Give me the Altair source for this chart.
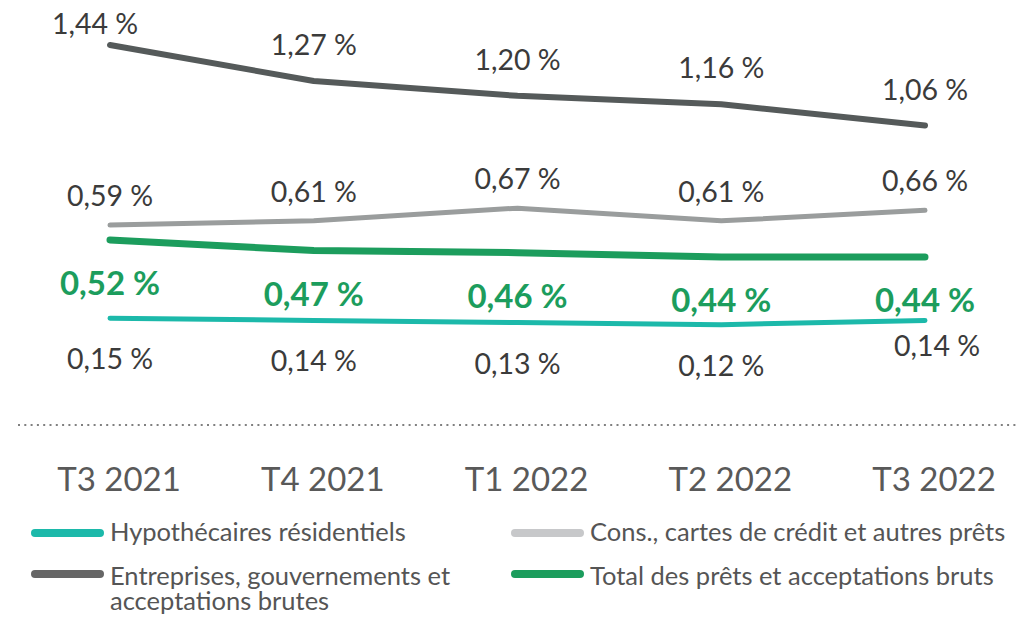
import altair as alt
import pandas as pd

quarters = ["T3 2021", "T4 2021", "T1 2022", "T2 2022", "T3 2022"]
series_names = [
    "Hypothécaires résidentiels",
    "Cons., cartes de crédit et autres prêts",
    "Entreprises, gouvernements et acceptations brutes",
    "Total des prêts et acceptations bruts",
]
hyp = [0.15, 0.14, 0.13, 0.12, 0.14]
cons = [0.59, 0.61, 0.67, 0.61, 0.66]
ent = [1.44, 1.27, 1.20, 1.16, 1.06]
total = [0.52, 0.47, 0.46, 0.44, 0.44]
legend_lines = [
    "Hypothécaires résidentiels",
    "Cons., cartes de crédit et autres prêts",
    "Entreprises, gouvernements et\nacceptations brutes",
    "Total des prêts et acceptations bruts",
]

line_colors = ["#1cb9aa", "#9a9d9d", "#555a5a", "#1c9d5d"]
legend_colors = ["#1cb9aa", "#c7c8ca", "#666666", "#1c9d5d"]
line_widths = [5, 5, 6, 7]
FONT = "Lato"

rows = []
for name, vals in zip(series_names, [hyp, cons, ent, total]):
    for i, (q, v) in enumerate(zip(quarters, vals)):
        rows.append({"quarter": q, "series": name, "value": v, "idx": i,
                     "label": f"{v:.2f}".replace(".", ",") + " %"})
df = pd.DataFrame(rows)

x = alt.X("quarter:N", sort=quarters,
          scale=alt.Scale(type="point", domain=quarters, range=[102, 917], padding=0),
          axis=None)
y = alt.Y("value:Q", scale=alt.Scale(domain=[0, 1.5], range=[342.1, 24.3], nice=False, zero=False),
          axis=None)

base = alt.Chart(df)
layers = []

# lines
for name, col, w in zip(series_names, line_colors, line_widths):
    layers.append(
        base.transform_filter(alt.datum.series == name)
        .mark_line(color=col, strokeWidth=w, strokeCap="round", strokeJoin="round")
        .encode(x=x, y=y)
    )

# value labels
label_style = {
    series_names[0]: dict(dy=42, dx=0, size=28.5, color="#3b3b3b", weight="normal"),
    series_names[1]: dict(dy=-28, dx=0, size=28.5, color="#3b3b3b", weight="normal"),
    series_names[2]: dict(dy=-35, dx=0, size=28.5, color="#3b3b3b", weight="normal"),
    series_names[3]: dict(dy=45, dx=0, size=33, color="#1c9d5d", weight="bold"),
}
for name, st in label_style.items():
    sub = base.transform_filter(alt.datum.series == name)
    if name == series_names[2]:
        layers.append(sub.transform_filter(alt.datum.idx == 0).mark_text(
            font=FONT, fontSize=st["size"], color=st["color"], fontWeight=st["weight"],
            dy=-20, dx=-15, align="center", baseline="middle").encode(x=x, y=y, text="label:N"))
        sub = sub.transform_filter(alt.datum.idx > 0)
    if name == series_names[0]:
        layers.append(sub.transform_filter(alt.datum.idx == 4).mark_text(
            font=FONT, fontSize=st["size"], color=st["color"], fontWeight=st["weight"],
            dy=27, dx=12, align="center", baseline="middle").encode(x=x, y=y, text="label:N"))
        sub = sub.transform_filter(alt.datum.idx < 4)
    layers.append(sub.mark_text(
        font=FONT, fontSize=st["size"], color=st["color"], fontWeight=st["weight"],
        dy=st["dy"], dx=st["dx"], align="center", baseline="middle").encode(x=x, y=y, text="label:N"))

# dotted separator
dummy = alt.Chart(pd.DataFrame({"a": [0]}))
layers.append(dummy.mark_rule(color="#808080", strokeDash=[2, 4.3], strokeWidth=2).encode(
    x=alt.value(10), x2=alt.value(1009), y=alt.value(417)))

# category labels
qdf = pd.DataFrame({"quarter": quarters})
layers.append(alt.Chart(qdf).mark_text(font=FONT, fontSize=33, color="#595959", dx=9,
                                       align="center", baseline="middle").encode(
    x=x, y=alt.value(473), text="quarter:N"))

# legend
leg_pos = [(27, 525, 533), (507, 525, 533), (27, 566, 577), (507, 566, 577)]
for (lx, sy, ty), col, txt in zip(leg_pos, legend_colors, legend_lines):
    layers.append(dummy.mark_rule(color=col, strokeWidth=8, strokeCap="round").encode(
        x=alt.value(lx), x2=alt.value(lx + 65), y=alt.value(sy)))
    layers.append(dummy.mark_text(font=FONT, fontSize=25.5, color="#555555", align="left",
                                  baseline="alphabetic", lineBreak="\n", lineHeight=25).encode(
        x=alt.value(lx + 75), y=alt.value(ty), text=alt.value(txt)))

chart = alt.layer(*layers).properties(
    width=1009, height=607, autosize=alt.AutoSizeParams(type="none"), padding=0
).configure(background="white", view=alt.ViewConfig(stroke=None))

chart.save("out.html", embed_options={"renderer": "svg", "actions": False})
